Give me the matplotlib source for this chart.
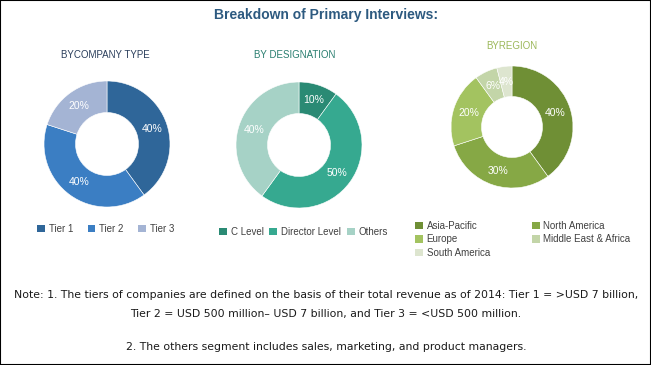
import numpy as np
import matplotlib
matplotlib.use('Agg')
import matplotlib.pyplot as plt
from matplotlib.patches import Rectangle, Patch

W, H = 651, 365

# Data
company_labels = ['Tier 1', 'Tier 2', 'Tier 3']
company_values = [40, 40, 20]
company_colors = ['#2f6699', '#3b7ec3', '#a4b4d4']

designation_labels = ['C Level', 'Director Level', 'Others']
designation_values = [10, 50, 40]
designation_colors = ['#2a8a74', '#36a990', '#a6d2c6']

region_labels = ['Asia-Pacific', 'North America', 'Europe', 'Middle East & Africa', 'South America']
region_values = [40, 30, 20, 6, 4]
region_colors = ['#6f8f35', '#86a845', '#a3c360', '#c3d5a8', '#dde5cf']

plain = ['Liberation Sans', 'DejaVu Sans']

fig = plt.figure(figsize=(W / 100, H / 100), dpi=100)
fig.patch.set_facecolor('white')


def fx(x):
    return x / W


def fy(y):
    return 1 - y / H


def donut(cx, cy, r, values, colors, label_size=7.5):
    ax = fig.add_axes([fx(cx - r), fy(cy + r), 2 * r / W, 2 * r / H])
    ax.pie(values, colors=colors, startangle=90, counterclock=False,
           radius=1, wedgeprops=dict(width=0.5, edgecolor='white', linewidth=0.4))
    total = sum(values)
    ang = 90.0
    for v in values:
        mid = np.deg2rad(ang - 360 * v / total / 2)
        ax.text(0.75 * np.cos(mid), 0.75 * np.sin(mid), f'{v}%', ha='center', va='center',
                color='white', fontsize=label_size, family=plain)
        ang -= 360 * v / total
    ax.set_xlim(-1, 1)
    ax.set_ylim(-1, 1)
    ax.set_aspect('equal')
    ax.axis('off')
    return ax


donut(107, 144, 63, company_values, company_colors)
donut(299, 145, 63, designation_values, designation_colors)
donut(512, 127, 61, region_values, region_colors)

# Titles
fig.text(fx(326), fy(15), 'Breakdown of Primary Interviews:', ha='center', va='center',
         fontsize=10, fontweight='bold', color='#2d5a80', family=plain)
fig.text(fx(105), fy(55), 'BYCOMPANY TYPE', ha='center', va='center',
         fontsize=7, color='#2b3f5c', family=plain)
fig.text(fx(295), fy(55), 'BY DESIGNATION', ha='center', va='center',
         fontsize=7, color='#2a7f70', family=plain)
fig.text(fx(512), fy(46), 'BYREGION', ha='center', va='center',
         fontsize=7, color='#9cb85a', family=plain)

legend_kw = dict(frameon=False, handlelength=0.8, handleheight=0.8,
                 handletextpad=0.4, borderaxespad=0, borderpad=0,
                 prop=dict(family=plain, size=7), labelcolor='#404040')


def handles(labels, colors):
    return [Patch(facecolor=c, edgecolor='none', label=l) for l, c in zip(labels, colors)]


fig.legend(handles=handles(company_labels, company_colors), ncol=3, columnspacing=1.5,
           loc='center left', bbox_to_anchor=(fx(37), fy(229)), **legend_kw)
fig.legend(handles=handles(designation_labels, designation_colors), ncol=3, columnspacing=0.6,
           loc='center left', bbox_to_anchor=(fx(219), fy(232)), **legend_kw)

# region legend fills row by row in the reference, matplotlib fills columns
order = [0, 2, 4, 1, 3]
region_handles = handles([region_labels[i] for i in order], [region_colors[i] for i in order])
fig.legend(handles=region_handles, ncol=2, columnspacing=4.3,
           labelspacing=0.35, loc='upper left', bbox_to_anchor=(fx(415), fy(221)), **legend_kw)

# Notes
note_color = '#1a1a1a'
note_size = 7.8
fig.text(fx(326), fy(295),
         'Note: 1. The tiers of companies are defined on the basis of their total revenue as of 2014: Tier 1 = >USD 7 billion,',
         ha='center', va='center', fontsize=note_size, color=note_color, family='DejaVu Sans')
fig.text(fx(326), fy(314),
         'Tier 2 = USD 500 million\u2013 USD 7 billion, and Tier 3 = <USD 500 million.',
         ha='center', va='center', fontsize=note_size, color=note_color, family='DejaVu Sans')
fig.text(fx(326), fy(347),
         '2. The others segment includes sales, marketing, and product managers.',
         ha='center', va='center', fontsize=note_size, color=note_color, family='DejaVu Sans')

# Border
fig.patches.append(Rectangle((0, 0), 1, 1, transform=fig.transFigure, fill=False,
                             edgecolor='black', linewidth=1.5))

fig.savefig('out.png', dpi=100)
